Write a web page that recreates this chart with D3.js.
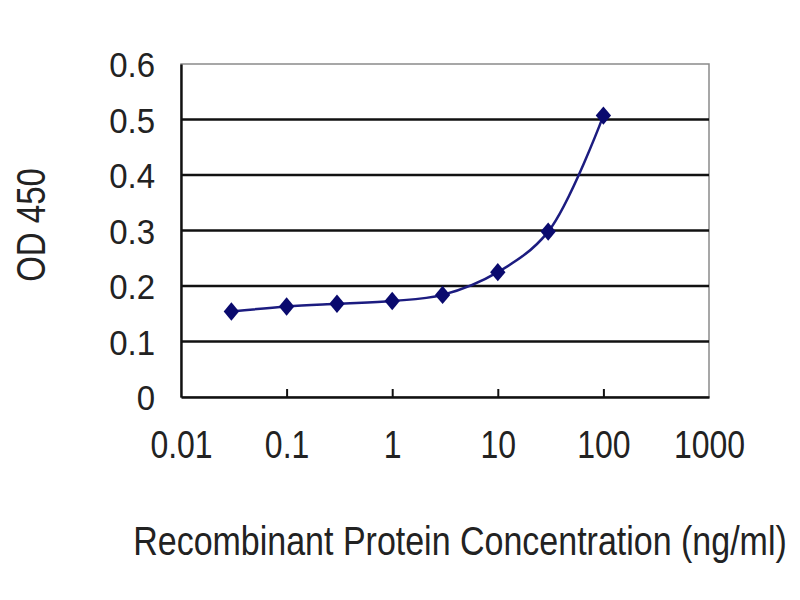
<!DOCTYPE html>
<html>
<head>
<meta charset="utf-8">
<script src="https://cdn.jsdelivr.net/npm/d3@7"></script>
<style>
  body { margin: 0; background: #fff; }
  svg { display: block; }
  text { font-family: Arial, "Liberation Sans", sans-serif; fill: #222; }
</style>
</head>
<body>
<svg id="chart" width="800" height="600"></svg>
<script>
// data
const concentrations = [0.03, 0.1, 0.3, 1, 3, 10, 30, 100];
const odValues = [0.154, 0.163, 0.168, 0.173, 0.184, 0.225, 0.298, 0.507];
const xTickValues = [0.01, 0.1, 1, 10, 100, 1000];
const xTickLabels = ["0.01", "0.1", "1", "10", "100", "1000"];
const yTickValues = [0, 0.1, 0.2, 0.3, 0.4, 0.5, 0.6];
const yTickLabels = ["0", "0.1", "0.2", "0.3", "0.4", "0.5", "0.6"];

const margin = { top: 64, right: 91, bottom: 203, left: 181 };
const W = 800, H = 600;
const w = W - margin.left - margin.right;
const h = H - margin.top - margin.bottom;

// the original text is drawn a bit taller than it is wide
const stretchX = 1.2, stretchY = 1.08;

const svg = d3.select("#chart");
const g = svg.append("g").attr("transform", `translate(${margin.left},${margin.top})`);

const x = d3.scaleLog().domain([0.01, 1000]).range([0, w]);
const y = d3.scaleLinear().domain([0, 0.6]).range([h, 0]);

// frame: top and right in grey
g.append("rect")
    .attr("x", 0).attr("y", 0).attr("width", w).attr("height", h)
    .attr("fill", "none").attr("stroke", "#8a8a8a").attr("stroke-width", 1.5);

// horizontal gridlines
g.selectAll("line.grid")
    .data(yTickValues.filter(v => v > 0 && v < 0.6))
    .join("line")
    .attr("class", "grid")
    .attr("x1", 0).attr("x2", w)
    .attr("y1", d => y(d)).attr("y2", d => y(d))
    .attr("stroke", "#111").attr("stroke-width", 2.4);

// y axis
const yAxis = d3.axisLeft(y)
    .tickValues(yTickValues)
    .tickFormat((d, i) => yTickLabels[i])
    .tickSize(0);
const yG = g.append("g").call(yAxis);
yG.select(".domain").attr("stroke", "#111").attr("stroke-width", 2.4);
yG.selectAll(".tick text")
    .attr("font-size", 33).attr("fill", "#222")
    .attr("x", 0).attr("y", 0).attr("dy", "0.36em")
    .attr("transform", `translate(-26,0) scale(1,${stretchY})`);

// x axis with inward ticks
const xAxis = d3.axisBottom(x)
    .tickValues(xTickValues)
    .tickFormat((d, i) => xTickLabels[i])
    .tickSizeInner(-8).tickSizeOuter(0);
const xG = g.append("g").attr("transform", `translate(0,${h})`).call(xAxis);
xG.select(".domain").attr("stroke", "#111").attr("stroke-width", 2.4);
xG.selectAll(".tick line").attr("stroke", "#111").attr("stroke-width", 2);
xG.selectAll(".tick")
    .filter(d => d === 0.01 || d === 1000)
    .select("line").remove();
xG.selectAll(".tick text")
    .attr("font-size", 32).attr("fill", "#222")
    .attr("y", 0).attr("dy", "0.36em")
    .attr("transform", `translate(0,47) scale(1,${stretchX})`);

// series line (smoothed)
const line = d3.line()
    .x((d, i) => x(concentrations[i]))
    .y(d => y(d))
    .curve(d3.curveCatmullRom.alpha(0.5));

g.append("path")
    .datum(odValues)
    .attr("d", line)
    .attr("fill", "none")
    .attr("stroke", "#1c1c80")
    .attr("stroke-width", 2.5);

// diamond markers
const diamond = d3.symbol().type(d3.symbolDiamond2).size(150);
g.selectAll("path.marker")
    .data(odValues)
    .join("path")
    .attr("class", "marker")
    .attr("d", diamond)
    .attr("transform", (d, i) => `translate(${x(concentrations[i])},${y(d)}) scale(1,1.2)`)
    .attr("fill", "#0a0a6e");

// axis titles
svg.append("text")
    .attr("transform", `translate(30,225) rotate(-90) scale(1,1.25)`)
    .attr("text-anchor", "middle")
    .attr("dy", "0.36em")
    .attr("font-size", 33)
    .text("OD 450");

svg.append("text")
    .attr("transform", `translate(460,540) scale(1,1.22)`)
    .attr("text-anchor", "middle")
    .attr("dy", "0.36em")
    .attr("font-size", 34)
    .text("Recombinant Protein Concentration (ng/ml)");
</script>
</body>
</html>
